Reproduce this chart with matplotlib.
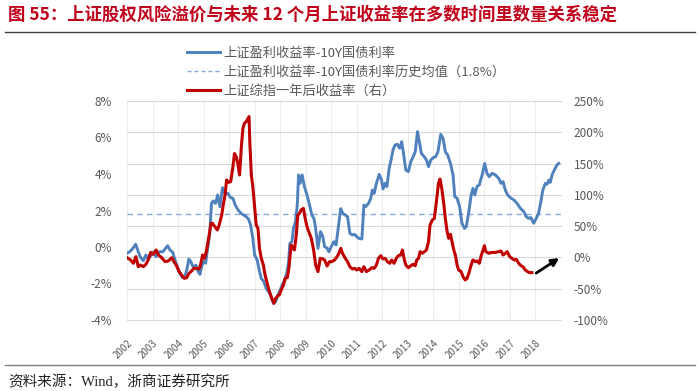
import matplotlib
matplotlib.use("Agg")
import matplotlib.pyplot as plt
from matplotlib.transforms import blended_transform_factory
from matplotlib.lines import Line2D

plt.rcParams['font.family'] = ['Noto Sans CJK SC', 'DejaVu Sans']

# ---------------- data ----------------
blue_x = [2002.00, 2002.12, 2002.25, 2002.34, 2002.44, 2002.53, 2002.64, 2002.74, 2002.83, 2002.97,
          2003.06, 2003.13, 2003.27, 2003.40, 2003.49, 2003.59, 2003.68, 2003.79, 2003.88, 2003.97,
          2004.07, 2004.18, 2004.27, 2004.37, 2004.42, 2004.50, 2004.60, 2004.70, 2004.79, 2004.86,
          2004.92, 2004.99, 2005.08, 2005.14, 2005.20, 2005.25, 2005.31, 2005.38, 2005.47, 2005.55,
          2005.64, 2005.74, 2005.84, 2005.95, 2006.06, 2006.15, 2006.24, 2006.35, 2006.47, 2006.67,
          2006.76, 2006.84, 2006.93, 2007.00, 2007.10, 2007.19, 2007.26, 2007.36, 2007.45, 2007.55,
          2007.65, 2007.74, 2007.82, 2007.91, 2008.00, 2008.08, 2008.17, 2008.26, 2008.33, 2008.38,
          2008.46, 2008.52, 2008.60, 2008.67, 2008.72, 2008.78, 2008.86, 2008.95, 2009.05, 2009.15,
          2009.24, 2009.32, 2009.38, 2009.48, 2009.58, 2009.67, 2009.74, 2009.84, 2009.91, 2010.00,
          2010.10, 2010.19, 2010.28, 2010.37, 2010.45, 2010.55, 2010.64, 2010.73, 2010.83, 2010.92,
          2011.00, 2011.09, 2011.20, 2011.28, 2011.35, 2011.46, 2011.55, 2011.61, 2011.68, 2011.77,
          2011.88, 2011.97, 2012.03, 2012.11, 2012.18, 2012.27, 2012.33, 2012.42, 2012.50, 2012.59,
          2012.68, 2012.76, 2012.83, 2012.92, 2013.02, 2013.12, 2013.21, 2013.29, 2013.38, 2013.44,
          2013.53, 2013.64, 2013.73, 2013.81, 2013.90, 2014.00, 2014.09, 2014.18, 2014.29, 2014.38,
          2014.47, 2014.56, 2014.67, 2014.77, 2014.84, 2014.93, 2015.03, 2015.12, 2015.22, 2015.29,
          2015.39, 2015.48, 2015.55, 2015.62, 2015.71, 2015.80, 2015.92, 2016.01, 2016.10, 2016.19,
          2016.30, 2016.43, 2016.56, 2016.65, 2016.73, 2016.82, 2016.91, 2017.02, 2017.15, 2017.28,
          2017.41, 2017.54, 2017.64, 2017.73, 2017.82, 2017.93, 2018.03, 2018.12, 2018.21, 2018.29,
          2018.39, 2018.45, 2018.53, 2018.58, 2018.65, 2018.74, 2018.84, 2018.91]
blue_y = [-0.35, -0.24, -0.04, 0.15, -0.26, -0.57, -0.75, -0.44, -0.66, -0.40,
          -0.26, -0.53, -0.26, -0.26, -0.11, 0.07, -0.16, -0.29, -0.71, -1.08,
          -1.44, -1.68, -1.63, -1.08, -0.66, -0.80, -1.13, -0.99, -1.35, -1.50,
          -1.08, -0.80, -0.89, -0.26, 0.29, 0.93, 2.39, 2.52, 2.39, 2.85,
          2.21, 3.25, 2.94, 2.94, 2.70, 2.67, 2.30, 2.03, 1.84, 1.66,
          1.53, 1.21, 0.47, -0.44, -0.71, -1.35, -1.72, -1.90, -2.27, -2.45,
          -2.72, -3.09, -3.00, -2.63, -2.36, -2.08, -1.81, -1.44, -0.80, 0.20,
          0.29, 1.02, 1.39, 2.30, 3.95, 3.49, 3.95, 3.31, 2.85, 2.30,
          1.75, 1.57, 1.11, -0.07, 0.84, 0.57, 0.02, -0.07, -0.26, 0.02,
          0.29, 0.11, 1.11, 2.10, 1.84, 1.75, 1.66, 0.75, 0.66, 0.69,
          0.57, 0.47, 0.44, 2.30, 2.21, 2.39, 2.67, 3.12, 2.94, 3.49,
          3.98, 3.67, 3.18, 3.49, 3.31, 4.31, 4.68, 5.32, 5.59, 5.63,
          5.41, 5.77, 5.13, 4.22, 4.13, 4.68, 4.95, 5.22, 6.32, 5.86,
          5.13, 4.95, 4.77, 4.40, 4.77, 4.90, 4.95, 5.22, 6.17, 5.95,
          5.22, 5.04, 4.58, 3.95, 2.76, 2.67, 2.21, 1.30, 1.02, 1.11,
          1.94, 2.85, 3.21, 2.85, 3.31, 3.40, 4.00, 4.58, 4.04, 3.85,
          4.04, 3.95, 3.76, 3.49, 3.58, 3.12, 2.85, 2.70, 2.58, 2.39,
          2.12, 1.94, 1.66, 1.57, 1.61, 1.30, 1.57, 1.84, 2.48, 3.12,
          3.49, 3.44, 3.67, 3.54, 3.95, 4.22, 4.49, 4.58]

red_x = [2002.00, 2002.14, 2002.25, 2002.35, 2002.44, 2002.53, 2002.64, 2002.74, 2002.83, 2002.93,
         2003.03, 2003.14, 2003.23, 2003.36, 2003.49, 2003.62, 2003.75, 2003.84, 2003.94, 2004.04,
         2004.14, 2004.24, 2004.34, 2004.43, 2004.53, 2004.62, 2004.73, 2004.82, 2004.88, 2004.96,
         2005.03, 2005.09, 2005.14, 2005.22, 2005.29, 2005.35, 2005.44, 2005.54, 2005.61, 2005.71,
         2005.77, 2005.84, 2005.90, 2005.97, 2006.06, 2006.15, 2006.21, 2006.28, 2006.34, 2006.41,
         2006.48, 2006.54, 2006.60, 2006.67, 2006.74, 2006.78, 2006.81, 2006.87, 2006.93, 2007.00,
         2007.06, 2007.13, 2007.19, 2007.26, 2007.34, 2007.41, 2007.49, 2007.58, 2007.67, 2007.75,
         2007.82, 2007.88, 2007.98, 2008.04, 2008.13, 2008.20, 2008.28, 2008.34, 2008.43, 2008.50,
         2008.56, 2008.63, 2008.69, 2008.76, 2008.82, 2008.91, 2008.98, 2009.05, 2009.12, 2009.22,
         2009.31, 2009.39, 2009.48, 2009.57, 2009.67, 2009.74, 2009.84, 2009.93, 2010.02, 2010.13,
         2010.26, 2010.38, 2010.44, 2010.55, 2010.64, 2010.73, 2010.83, 2010.92, 2011.00, 2011.09,
         2011.20, 2011.28, 2011.38, 2011.48, 2011.59, 2011.68, 2011.77, 2011.85, 2011.94, 2012.03,
         2012.11, 2012.20, 2012.29, 2012.37, 2012.46, 2012.55, 2012.63, 2012.72, 2012.79, 2012.85,
         2012.92, 2013.02, 2013.12, 2013.21, 2013.29, 2013.35, 2013.42, 2013.48, 2013.57, 2013.65,
         2013.73, 2013.81, 2013.87, 2013.96, 2014.04, 2014.12, 2014.20, 2014.26, 2014.33, 2014.41,
         2014.47, 2014.54, 2014.60, 2014.67, 2014.73, 2014.80, 2014.86, 2014.93, 2014.99, 2015.09,
         2015.16, 2015.25, 2015.32, 2015.39, 2015.48, 2015.55, 2015.65, 2015.71, 2015.80, 2015.88,
         2015.95, 2016.00, 2016.06, 2016.17, 2016.30, 2016.43, 2016.56, 2016.65, 2016.73, 2016.82,
         2016.89, 2016.99, 2017.08, 2017.17, 2017.25, 2017.34, 2017.43, 2017.51, 2017.60, 2017.69,
         2017.77, 2017.86]
red_y = [-0.4, -4.1, -9.4, 1.2, -14.8, -12.1, -14.8, -11.0, -4.1, 8.1,
         5.0, 11.9, 3.9, -0.4, -6.8, -5.7, -0.4, -6.8, -13.2, -22.7,
         -28.1, -33.4, -32.3, -25.4, -21.7, -17.4, -17.4, -18.5, -12.1, 3.9,
         -1.4, 6.6, 17.2, 35.9, 54.5, 54.5, 49.2, 43.9, 51.8, 67.8,
         83.8, 99.8, 123.8, 120.0, 121.0, 145.0, 166.0, 161.0, 150.0, 131.7,
         177.0, 206.3, 214.3, 217.0, 222.3, 225.0, 185.0, 131.7, 113.0, 81.1,
         51.8, 46.5, 14.5, -1.4, -12.1, -28.1, -41.4, -54.7, -65.4, -73.4,
         -65.4, -62.7, -59.0, -52.0, -44.0, -33.4, -32.3, -17.4, 19.9, 14.5,
         11.9, 35.9, 67.8, 70.5, 75.8, 78.5, 62.5, 49.2, 41.2, 30.5,
         11.9, -12.1, -22.7, -1.4, -2.5, -4.1, -13.7, -6.8, -6.8, -4.1,
         3.0, 14.5, 6.6, -1.4, -6.8, -14.8, -18.5, -17.4, -20.1, -17.4,
         -22.7, -14.8, -22.7, -20.1, -16.4, -17.4, -12.1, -1.4, 2.8, -2.5,
         -1.4, -6.8, -9.4, -4.1, -9.4, -1.4, 2.8, 3.9, 11.9, -1.4,
         -12.1, -16.4, -13.2, -11.0, -13.2, -4.1, -1.4, 9.2, 6.6, 9.2,
         11.9, 25.2, 51.8, 59.8, 62.5, 89.1, 118.4, 125.3, 110.4, 85.0,
         62.0, 41.2, 30.5, 36.9, 25.2, 11.9, 3.9, -12.1, -20.1, -22.7,
         -30.7, -36.0, -33.4, -25.4, -12.1, -4.1, -6.8, -5.7, -9.4, 3.9,
         11.9, 18.8, 9.2, 6.6, 8.1, 8.1, 9.2, 10.3, 3.9, 6.6,
         9.2, 1.2, -1.4, -4.1, -3.0, -9.4, -13.2, -14.8, -20.1, -22.7,
         -24.3, -24.3]

hist_mean = 1.8
year_ticks = list(range(2002, 2019))
year_labels = [str(y) for y in year_ticks]
left_ticks = [-4, -2, 0, 2, 4, 6, 8]
right_ticks = [-100, -50, 0, 50, 100, 150, 200, 250]
arrow_start = (2018.03, -25)
arrow_end = (2018.93, -1)

title = "图 55：上证股权风险溢价与未来 12 个月上证收益率在多数时间里数量关系稳定"
source = "资料来源：Wind，浙商证券研究所"
legend_labels = ["上证盈利收益率-10Y国债利率",
                 "上证盈利收益率-10Y国债利率历史均值（1.8%）",
                 "上证综指一年后收益率（右）"]

# ---------------- styles ----------------
BLUE = "#4F81BD"
RED = "#C00000"
DASH = "#8EA9D6"
GRID_H = "#D9D9D9"
GRID_V = "#EDEDED"
TXT = "#595959"

fig = plt.figure(figsize=(7.0, 3.91), dpi=100)
ax = fig.add_axes([127/700, 1-320/391, (561-127)/700, (320-101)/391])
ax2 = ax.twinx()

ax.set_xlim(2002, 2019)
ax.set_ylim(-4, 8)
ax2.set_ylim(-100, 250)

for a in (ax, ax2):
    for s in a.spines.values():
        s.set_visible(False)
    a.tick_params(length=0)

# horizontal gridlines follow the right axis, drawn on the primary axes (beneath lines)
trans = blended_transform_factory(ax.transAxes, ax2.transData)
for r in right_ticks:
    ax.plot([0, 1], [r, r], transform=trans, color=GRID_H, lw=0.8, zorder=0.5, clip_on=False)
for yr in year_ticks + [2019]:
    ax.axvline(yr, color=GRID_V, lw=0.8, zorder=0.4)

# series
ax.axhline(hist_mean, color=DASH, lw=1.0, ls=(0, (4, 3)), zorder=1)
ax.plot(blue_x, blue_y, color=BLUE, lw=2.1, zorder=2, solid_joinstyle='round')
ax2.plot(red_x, red_y, color=RED, lw=2.2, zorder=2, solid_joinstyle='round')

ax2.annotate("", xy=arrow_end, xytext=arrow_start,
             arrowprops=dict(arrowstyle='-|>', lw=2.0, color='black', mutation_scale=11,
                             shrinkA=0, shrinkB=0))

# ticks
ax.set_yticks(left_ticks)
ax.set_yticklabels([f"{v}%" for v in left_ticks], fontsize=8.5, color=TXT)
ax.tick_params(axis='y', pad=11)
ax2.set_yticks(right_ticks)
ax2.set_yticklabels([f"{v}%" for v in right_ticks], fontsize=8.5, color=TXT)
ax2.tick_params(axis='y', pad=9)

ax.set_xticks(year_ticks)
ax.set_xticklabels(year_labels, fontsize=7, color=TXT, rotation=45,
                   ha='right', va='top', rotation_mode='anchor')
ax.tick_params(axis='x', pad=13)

# legend
handles = [Line2D([], [], color=BLUE, lw=2.1),
           Line2D([], [], color=DASH, lw=1.0, ls=(0, (3, 2))),
           Line2D([], [], color=RED, lw=2.2)]
leg = fig.legend(handles, legend_labels, loc='upper left',
                 bbox_to_anchor=(180/700, 1-40/391), frameon=False,
                 fontsize=9.5, handlelength=2.5, handletextpad=0.3,
                 labelspacing=0.45, borderpad=0)
for t in leg.get_texts():
    t.set_color(TXT)

# title & source
fig.text(8/700, 1-15/391, title, fontsize=12.5, fontweight='bold', color="#C0001A",
         ha='left', va='center')
fig.add_artist(Line2D([5/700, 695/700], [1-32/391, 1-32/391], color="#404040", lw=1.0))
fig.add_artist(Line2D([5/700, 695/700], [1-365/391, 1-365/391], color="#808080", lw=1.0))
fig.text(8/700, 1-382/391, source, fontsize=10.5, color="#222222", ha='left', va='center',
         family=['Liberation Serif', 'Noto Sans CJK SC'])

fig.savefig("out.png", dpi=100)
